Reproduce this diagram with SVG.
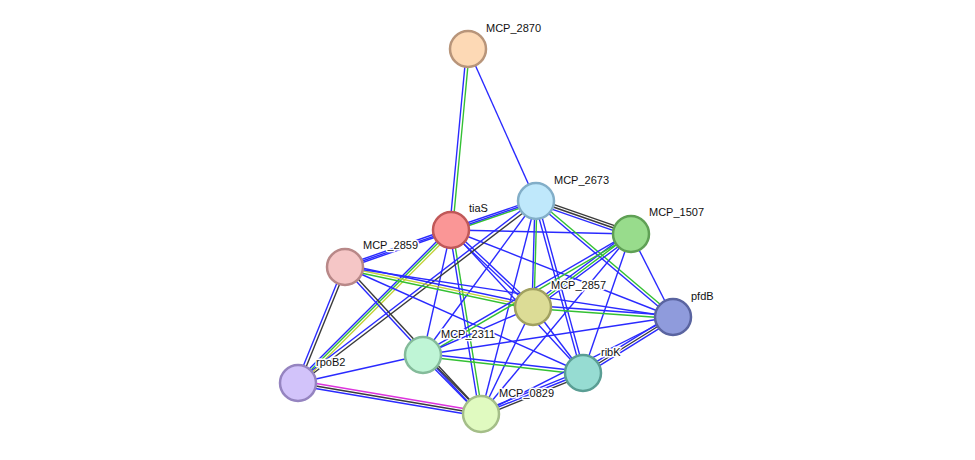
<svg xmlns="http://www.w3.org/2000/svg" width="975" height="460" viewBox="0 0 975 460">
<style>
line{stroke-width:1.4}
.b{stroke:#2a2aff}.g{stroke:#33c033}.k{stroke:#3a3a3a}.y{stroke:#c4d23a}.m{stroke:#dd33dd}
circle{stroke-width:2.5}
text{font-family:"Liberation Sans",Arial,sans-serif;font-size:11px;fill:#111;stroke:#fff;stroke-width:3px;paint-order:stroke;stroke-linejoin:round}
</style>
<rect width="975" height="460" fill="#fff"/>
<g id="edges">
<line class="b" x1="466.5" y1="49" x2="449.5" y2="230"/><line class="g" x1="469.5" y1="49" x2="452.5" y2="230"/>
<line class="b" x1="468" y1="49" x2="536" y2="201"/>
<line class="b" x1="450.5" y1="228.5" x2="535.5" y2="199.5"/><line class="g" x1="451.5" y1="231.5" x2="536.5" y2="202.5"/>
<line class="b" x1="451" y1="230" x2="631" y2="234"/>
<line class="b" x1="450.5" y1="228.5" x2="344.5" y2="265.5"/><line class="b" x1="451.5" y1="231.5" x2="345.5" y2="268.5"/>
<line class="b" x1="452" y1="229" x2="534" y2="306"/><line class="b" x1="450" y1="231" x2="532" y2="308"/>
<line class="b" x1="451" y1="230" x2="673" y2="317"/>
<line class="b" x1="451" y1="230" x2="423" y2="355"/>
<line class="b" x1="449.5" y1="230" x2="479.5" y2="414"/><line class="g" x1="452.5" y1="230" x2="482.5" y2="414"/>
<line class="b" x1="451" y1="230" x2="583" y2="373"/>
<line class="b" x1="449.6" y1="228.6" x2="296.6" y2="381.6"/><line class="g" x1="451" y1="230" x2="298" y2="383"/><line class="y" x1="452.8" y1="231.8" x2="299.8" y2="384.8"/>
<line class="k" x1="536.8" y1="198.6" x2="631.8" y2="231.6"/><line class="k" x1="536" y1="201" x2="631" y2="234"/><line class="b" x1="535.2" y1="203.4" x2="630.2" y2="236.4"/>
<line class="b" x1="535" y1="199.8" x2="297" y2="381.8"/><line class="k" x1="537" y1="202.2" x2="299" y2="384.2"/>
<line class="b" x1="535" y1="201" x2="532" y2="307"/><line class="g" x1="537" y1="201" x2="534" y2="307"/>
<line class="b" x1="536" y1="201" x2="423" y2="355"/>
<line class="b" x1="536" y1="201" x2="481" y2="414"/>
<line class="b" x1="534.5" y1="201.4" x2="581.5" y2="373.4"/><line class="b" x1="537.5" y1="200.6" x2="584.5" y2="372.6"/>
<line class="b" x1="535" y1="202" x2="672" y2="318"/><line class="g" x1="537" y1="200" x2="674" y2="316"/>
<line class="b" x1="536" y1="201" x2="345" y2="267"/>
<line class="b" x1="345.4" y1="264.5" x2="533.4" y2="304.5"/><line class="y" x1="345" y1="267" x2="533" y2="307"/><line class="g" x1="344.6" y1="269.5" x2="532.6" y2="309.5"/>
<line class="b" x1="345" y1="267" x2="673" y2="317"/>
<line class="b" x1="345" y1="267" x2="583" y2="373"/>
<line class="b" x1="344" y1="268" x2="480" y2="415"/><line class="k" x1="346" y1="266" x2="482" y2="413"/>
<line class="b" x1="343.6" y1="266.4" x2="296.6" y2="382.4"/><line class="k" x1="346.4" y1="267.6" x2="299.4" y2="383.6"/>
<line class="b" x1="629.5" y1="232" x2="531.5" y2="305"/><line class="g" x1="631" y1="234" x2="533" y2="307"/><line class="b" x1="632.5" y1="236" x2="534.5" y2="309"/>
<line class="b" x1="630.2" y1="232.7" x2="422.2" y2="353.7"/><line class="g" x1="631.8" y1="235.3" x2="423.8" y2="356.3"/>
<line class="b" x1="631" y1="234" x2="583" y2="373"/>
<line class="b" x1="631" y1="234" x2="673" y2="317"/>
<line class="b" x1="631" y1="234" x2="481" y2="414"/>
<line class="b" x1="533" y1="305.5" x2="673" y2="315.5"/><line class="g" x1="533" y1="308.5" x2="673" y2="318.5"/>
<line class="b" x1="533" y1="307" x2="423" y2="355"/>
<line class="b" x1="533" y1="307" x2="583" y2="373"/>
<line class="b" x1="533" y1="307" x2="481" y2="414"/>
<line class="b" x1="423" y1="353.5" x2="583" y2="371.5"/><line class="g" x1="423" y1="356.5" x2="583" y2="374.5"/>
<line class="b" x1="422" y1="356" x2="480" y2="415"/><line class="k" x1="424" y1="354" x2="482" y2="413"/>
<line class="b" x1="423" y1="355" x2="298" y2="383"/>
<line class="b" x1="423" y1="355" x2="673" y2="317"/>
<line class="m" x1="298.4" y1="380.5" x2="481.4" y2="411.5"/><line class="k" x1="298" y1="383" x2="481" y2="414"/><line class="b" x1="297.6" y1="385.5" x2="480.6" y2="416.5"/>
<line class="b" x1="582.1" y1="370.7" x2="480.1" y2="411.7"/><line class="b" x1="583" y1="373" x2="481" y2="414"/><line class="k" x1="583.9" y1="375.3" x2="481.9" y2="416.3"/>
<line class="b" x1="581.7" y1="370.9" x2="671.7" y2="314.9"/><line class="k" x1="583" y1="373" x2="673" y2="317"/><line class="b" x1="584.3" y1="375.1" x2="674.3" y2="319.1"/>
<line class="b" x1="481" y1="414" x2="673" y2="317"/>
</g>
<g id="MCP_2870"><circle cx="468" cy="49" r="18" fill="#fdd9b5" stroke="#b8957a"/><text x="486" y="32">MCP_2870</text></g>
<g id="MCP_2673"><circle cx="536" cy="201" r="18" fill="#bfe8fb" stroke="#82aec8"/><text x="554" y="184">MCP_2673</text></g>
<g id="tiaS"><circle cx="451" cy="230" r="18" fill="#fa9696" stroke="#c05858"/><text x="469" y="212">tiaS</text></g>
<g id="MCP_1507"><circle cx="631" cy="234" r="18" fill="#98dc8c" stroke="#5fa055"/><text x="649" y="216">MCP_1507</text></g>
<g id="MCP_2859"><circle cx="345" cy="267" r="18" fill="#f5c6c6" stroke="#b88888"/><text x="363" y="249">MCP_2859</text></g>
<g id="MCP_2857"><circle cx="533" cy="307" r="18" fill="#dcdc96" stroke="#a0a060"/><text x="551" y="289">MCP_2857</text></g>
<g id="pfdB"><circle cx="673" cy="317" r="18" fill="#8f9bdc" stroke="#5a64a0"/><text x="691" y="300">pfdB</text></g>
<g id="MCP_2311"><circle cx="423" cy="355" r="18" fill="#bff5d6" stroke="#84bb9a"/><text x="441" y="338">MCP_2311</text></g>
<g id="rpoB2"><circle cx="298" cy="383" r="18" fill="#d2c3fa" stroke="#9584c0"/><text x="316" y="366">rpoB2</text></g>
<g id="ribK"><circle cx="583" cy="373" r="18" fill="#96dcd2" stroke="#5a9e94"/><text x="601" y="356">ribK</text></g>
<g id="MCP_0829"><circle cx="481" cy="414" r="18" fill="#e0fac0" stroke="#a4be88"/><text x="499" y="397">MCP_0829</text></g>
</svg>
